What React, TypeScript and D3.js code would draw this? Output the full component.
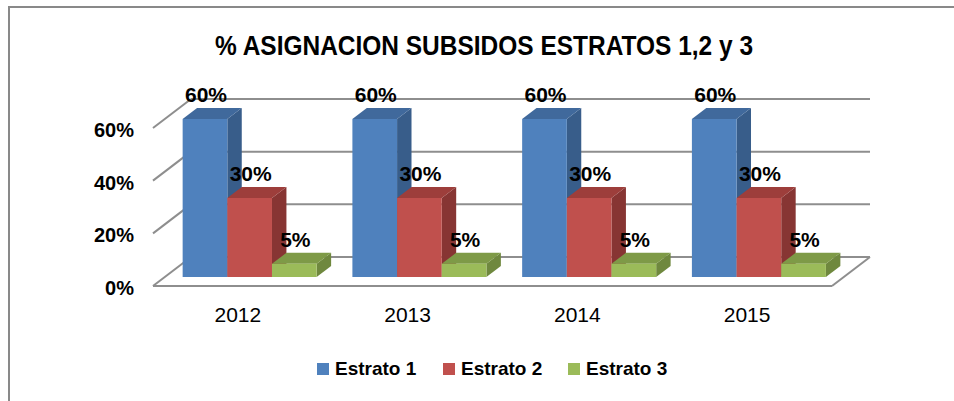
import React from "react";
import * as d3 from "d3";

const years = ["2012", "2013", "2014", "2015"];
const seriesNames = ["Estrato 1", "Estrato 2", "Estrato 3"];
const estrato1 = [0.6, 0.6, 0.6, 0.6];
const estrato2 = [0.3, 0.3, 0.3, 0.3];
const estrato3 = [0.05, 0.05, 0.05, 0.05];
const yTicks = [0, 0.2, 0.4, 0.6];
const title = "% ASIGNACION SUBSIDOS ESTRATOS 1,2 y 3";

const colors = [
  { front: "#4F81BD", top: "#40699C", side: "#385D8A" },
  { front: "#C0504D", top: "#9D3E3B", side: "#873533" },
  { front: "#9BBB59", top: "#7E9A47", side: "#6F883E" },
];

const W = 954;
const H = 401;
const FONT = "'Liberation Sans', Arial, sans-serif";

export default function App() {
  const values = [estrato1, estrato2, estrato3];
  const depthX = 38;
  const depthY = -29;
  const x0 = d3.scaleBand<string>().domain(years).range([153, 832]).padding(0);
  const x1 = d3
    .scaleBand<string>()
    .domain(seriesNames)
    .range([0, x0.bandwidth()])
    .paddingInner(0)
    .paddingOuter(0.4);
  const y = d3.scaleLinear().domain([0, 0.6]).range([286, 128]);
  const fmt = d3.format(".0%");
  const P = (x: number, v: number, f: number): [number, number] => [
    x + f * depthX,
    y(v) + f * depthY,
  ];
  const poly = (pts: [number, number][]) => pts.map((p) => p.join(",")).join(" ");
  const fFront = 0.31;
  const fBack = 0.69;
  const grid = "#8E8E8E";

  const bars: React.ReactNode[] = [];
  const labels: React.ReactNode[] = [];
  years.forEach((yr, i) => {
    seriesNames.forEach((s, j) => {
      const v = values[j][i];
      const xl = (x0(yr) as number) + (x1(s) as number);
      const xr = xl + x1.bandwidth();
      const c = colors[j];
      const fbl = P(xl, 0, fFront);
      const fbr = P(xr, 0, fFront);
      const ftl = P(xl, v, fFront);
      const ftr = P(xr, v, fFront);
      const btl = P(xl, v, fBack);
      const btr = P(xr, v, fBack);
      const bbr = P(xr, 0, fBack);
      bars.push(
        <g key={`${yr}-${s}`}>
          <polygon points={poly([fbr, ftr, btr, bbr])} fill={c.side} />
          <polygon points={poly([ftl, ftr, btr, btl])} fill={c.top} />
          <polygon points={poly([fbl, fbr, ftr, ftl])} fill={c.front} />
        </g>
      );
      labels.push(
        <text
          key={`l-${yr}-${s}`}
          x={(ftl[0] + ftr[0]) / 2 + 1}
          y={btl[1] - 6}
          textAnchor="middle"
          fontFamily={FONT}
          fontWeight="bold"
          fontSize={21}
          fill="#000"
        >
          {fmt(v)}
        </text>
      );
    });
  });

  const legendX = [317, 443, 568];

  return (
    <svg
      width={W}
      height={H}
      style={{ position: "absolute", left: 0, top: 0, background: "#fff" }}
    >
      <rect x={0} y={0} width={W} height={H} fill="#fff" />
      <rect x={9} y={7} width={1200} height={600} fill="none" stroke="#898989" strokeWidth={2} />
      <text
        x={484}
        y={55}
        textAnchor="middle"
        fontFamily={FONT}
        fontWeight="bold"
        fontSize={27}
        textLength={538}
        lengthAdjust="spacingAndGlyphs"
        fill="#000"
      >
        {title}
      </text>
      {/* floor */}
      <line x1={153} y1={y(0)} x2={832} y2={y(0)} stroke={grid} strokeWidth={2} />
      <line
        x1={832}
        y1={y(0)}
        x2={832 + depthX}
        y2={y(0) + depthY}
        stroke={grid}
        strokeWidth={2}
      />
      {yTicks.map((t) => (
        <g key={t}>
          <line
            x1={153}
            y1={y(t)}
            x2={153 + depthX}
            y2={y(t) + depthY}
            stroke={grid}
            strokeWidth={2}
          />
          <line
            x1={153 + depthX}
            y1={y(t) + depthY}
            x2={832 + depthX}
            y2={y(t) + depthY}
            stroke={grid}
            strokeWidth={2}
          />
          <text
            x={134}
            y={y(t) + 9}
            textAnchor="end"
            fontFamily={FONT}
            fontWeight="bold"
            fontSize={20}
            fill="#000"
          >
            {fmt(t)}
          </text>
        </g>
      ))}
      {bars}
      {labels}
      {years.map((yr) => (
        <text
          key={yr}
          x={(x0(yr) as number) + x0.bandwidth() / 2}
          y={322}
          textAnchor="middle"
          fontFamily={FONT}
          fontSize={21}
          fill="#000"
        >
          {yr}
        </text>
      ))}
      {seriesNames.map((s, j) => (
        <g key={s}>
          <rect x={legendX[j]} y={363} width={12} height={12} fill={colors[j].front} />
          <text
            x={legendX[j] + 18}
            y={375}
            fontFamily={FONT}
            fontWeight="bold"
            fontSize={19}
            fill="#000"
          >
            {s}
          </text>
        </g>
      ))}
    </svg>
  );
}
